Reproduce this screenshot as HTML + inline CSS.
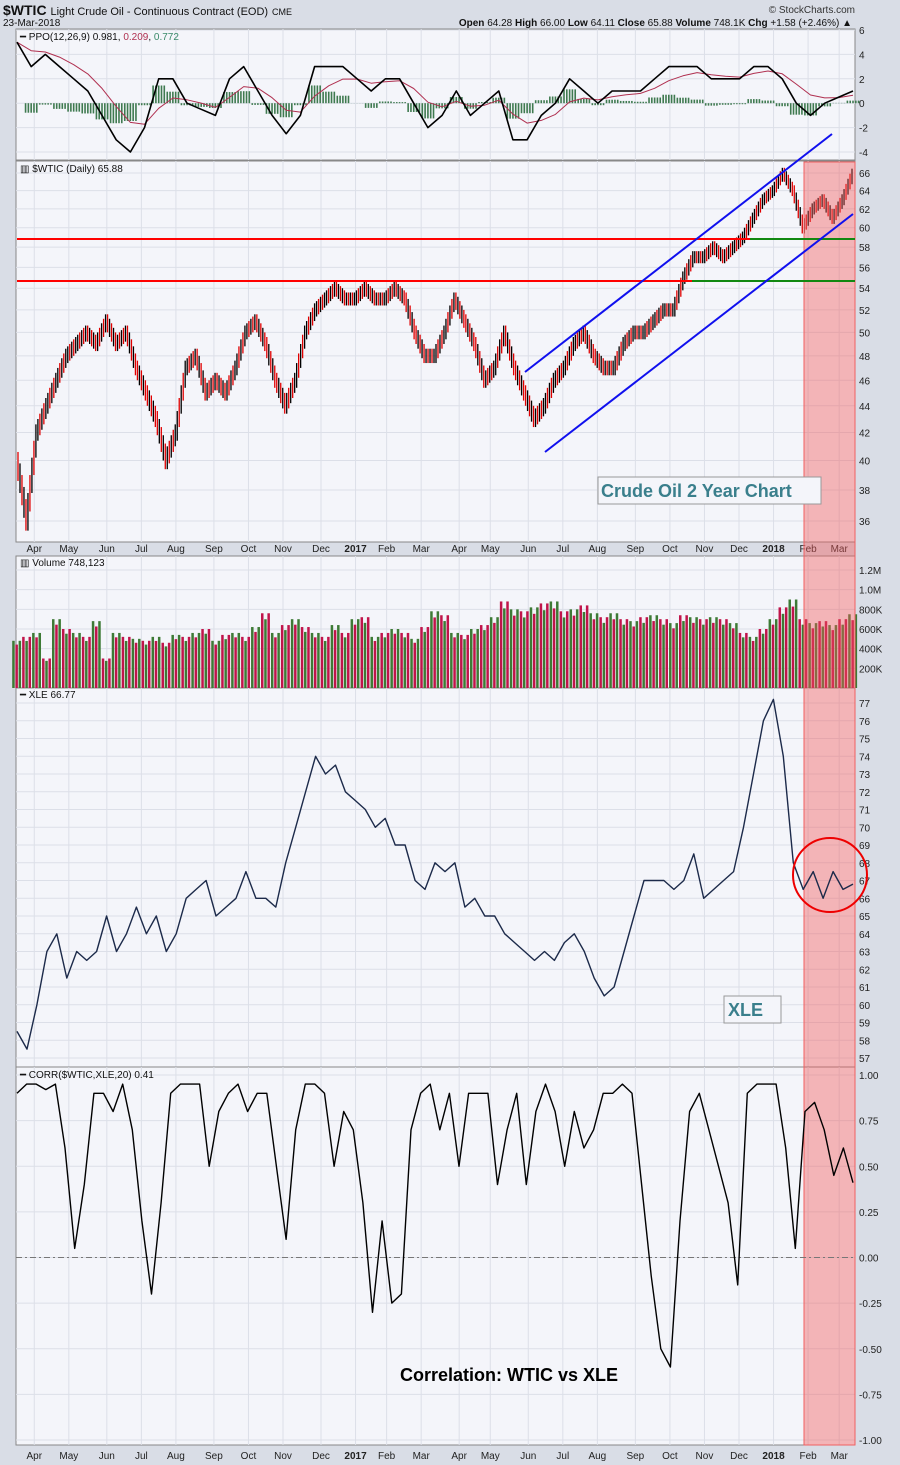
<!DOCTYPE html>
<html><head><meta charset="utf-8"><style>
body{margin:0;background:#d9dde6;font-family:"Liberation Sans",sans-serif;}
svg{display:block}
text{font-family:"Liberation Sans",sans-serif;}
</style></head><body>
<svg id="c" width="900" height="1465" viewBox="0 0 900 1465">
<rect x="0" y="0" width="900" height="1465" fill="#d9dde6"/>
<g>
<text x="3" y="15" font-size="14" font-weight="bold" fill="#111">$WTIC <tspan font-size="11" font-weight="normal">Light Crude Oil - Continuous Contract (EOD)</tspan> <tspan font-size="9" font-weight="normal">CME</tspan></text>
<text x="3" y="26" font-size="10" fill="#111">23-Mar-2018</text>
<text x="855" y="13" font-size="10" fill="#333" text-anchor="end">© StockCharts.com</text>
<text x="852" y="26" font-size="10" fill="#111" text-anchor="end"><tspan font-weight="bold">Open</tspan> 64.28 <tspan font-weight="bold">High</tspan> 66.00 <tspan font-weight="bold">Low</tspan> 64.11 <tspan font-weight="bold">Close</tspan> 65.88 <tspan font-weight="bold">Volume</tspan> 748.1K <tspan font-weight="bold">Chg</tspan> +1.58 (+2.46%) ▲</text>
</g>
<g id="panels"></g>
<g id="marks"></g>
<g id="overlay"></g>
</svg>
<script>
const ppoVals=[5,3,4,3,2,1,-1,-3,-4,-2,2,2,0,-0.5,-1,2,3,1,-1,-2.5,-1,3,3,3,2,1,2,2,0,-2,-1,1,-1,0,1,-3,-3,-1,0,2,1,0,1,1,1,2,3,3,3,2,2,2,3,3,2,0,-1,0,0.5,1];
const priceVals=[40,36,42,44,46,48,49,50,49,51,49,50,47,45,43,40,42,47,48,45,46,45,47,50,51,49,46,44,46,50,52,53,54,53,53,54,53,53,54,53,50,48,48,50,53,51,49,46,47,50,47,45,43,44,46,47,49,50,48,47,47,49,50,50,51,52,52,55,57,57,58,57,58,59,61,63,64,66,64,60,62,63,61,63,65.9];
const volVals=[480,520,560,300,700,600,560,520,680,300,560,520,500,480,520,460,540,520,560,600,480,540,560,520,620,760,560,640,700,620,560,520,640,560,700,720,520,560,600,560,500,620,780,740,560,540,600,640,720,880,800,780,820,860,880,780,800,840,760,720,760,700,680,720,740,700,660,740,720,700,720,700,660,560,520,600,700,820,900,700,660,680,640,700,750];
const xleVals=[58.5,57.5,60,63,64,61.5,63,62.5,63,65,63,64,65.5,64,65,63,64,66,66.5,67,65,65.5,66,67.5,66,66,65.5,68,70,72,74,73,73.5,72,71.5,71,70,70.5,69,69,67,66.5,68,67.5,68,65.5,66,65,65,64,63.5,63,62.5,63,62.5,63.5,64,63,61.5,60.5,61,63,65,67,67,67,66.5,67,68.5,66,66.5,67,67.5,70,73,76,77.2,74,68,66.5,67.5,66,67.5,66.5,66.8];
const corrVals=[0.9,0.95,0.95,0.92,0.95,0.6,0.05,0.4,0.9,0.9,0.8,0.95,0.7,0.2,-0.2,0.3,0.9,0.95,0.95,0.95,0.5,0.8,0.9,0.95,0.8,0.9,0.9,0.5,0.1,0.7,0.95,0.95,0.9,0.5,0.8,0.7,0.3,-0.3,0.2,-0.25,-0.2,0.7,0.9,0.95,0.7,0.9,0.5,0.9,0.9,0.9,0.4,0.7,0.9,0.4,0.8,0.95,0.8,0.5,0.8,0.6,0.7,0.9,0.9,0.95,0.9,0.4,-0.1,-0.5,-0.6,0.2,0.8,0.9,0.7,0.5,0.3,-0.15,0.9,0.95,0.95,0.95,0.6,0.05,0.8,0.85,0.7,0.45,0.6,0.41];
const monthLabels=["Apr","May","Jun","Jul","Aug","Sep","Oct","Nov","Dec","2017","Feb","Mar","Apr","May","Jun","Jul","Aug","Sep","Oct","Nov","Dec","2018","Feb","Mar"];
const monthIdx=[0.5,1.5,2.6,3.6,4.6,5.7,6.7,7.7,8.8,9.8,10.7,11.7,12.8,13.7,14.8,15.8,16.8,17.9,18.9,19.9,20.9,21.9,22.9,23.8];
const ppoTicks=[6,4,2,0,-2,-4];
const priceTicks=[36,38,40,42,44,46,48,50,52,54,56,58,60,62,64,66];
const volTicks=[200,400,600,800,1000,1200];
const volTickLabels=["200K","400K","600K","800K","1.0M","1.2M"];
const xleTicks=[57,58,59,60,61,62,63,64,65,66,67,68,69,70,71,72,73,74,75,76,77];
const corrTicks=[1,0.75,0.5,0.25,0,-0.25,-0.5,-0.75,-1];
const corrTickLabels=["1.00","0.75","0.50","0.25","0.00","-0.25","-0.50","-0.75","-1.00"];

const NS="http://www.w3.org/2000/svg";
const X0=17,X1=853,XR=855;
function el(parent,tag,attrs){const e=document.createElementNS(NS,tag);for(const k in attrs)e.setAttribute(k,attrs[k]);parent.appendChild(e);return e;}
const P=document.getElementById('panels'),M=document.getElementById('marks');
function xIdx(i,n){return X0+i*(X1-X0)/(n-1);}
function xMonth(m){return X0+m*(X1-X0)/24.2;}
function lin(v0,y0,v1,y1){return v=>y0+(v-v0)*(y1-y0)/(v1-v0);}
function logs(v0,y0,v1,y1){const a=Math.log(v0),b=Math.log(v1);return v=>y0+(Math.log(v)-a)*(y1-y0)/(b-a);}
const yPPO=lin(6,30,-4,152), yPrice=logs(66,173,36,521), yVol=lin(0,688,1200,570), yXle=lin(77,703,57,1058), yCorr=lin(1,1075,-1,1440);

function panel(name,top,bot,ticks,labels,ys){
  const g=el(P,'g',{});
  
  
  const r=el(g,'rect',{x:16,y:top,width:XR-16,height:bot-top,fill:'#f4f5fa',stroke:'#888','stroke-width':1});
  
  
  monthIdx.forEach(m=>{const l=el(g,'line',{x1:xMonth(m),x2:xMonth(m),y1:top,y2:bot,stroke:'#dcdfe8','stroke-width':1});
    
    });
  ticks.forEach((t,i)=>{const y=ys(t);
    const l=el(g,'line',{x1:16,x2:XR,y1:y,y2:y,stroke:'#dcdfe8','stroke-width':1});
    
    
    const tx=el(g,'text',{x:859,y:y+4,'font-size':10,fill:'#222'});tx.textContent=labels?labels[i]:t;
    
    });
}
panel('ppo-panel',29,160,ppoTicks,null,yPPO);
panel('price-panel',161,542,priceTicks,null,yPrice);
panel('volume-panel',556,688,volTicks,volTickLabels,yVol);
panel('xle-panel',688,1067,xleTicks,null,yXle);
panel('corr-panel',1067,1445,corrTicks,corrTickLabels,yCorr);

function xAxis(y,name){const g=el(P,'g',{});
  monthLabels.forEach((m,i)=>{const t=el(g,'text',{x:xMonth(monthIdx[i]),y:y,'font-size':10,'text-anchor':'middle',fill:'#222','font-weight':/^20/.test(m)?'bold':'normal'});t.textContent=m;
  
  });}
xAxis(552,'x-axis-top');xAxis(1459,'x-axis-bottom');

// PPO
const sig=[];let s=ppoVals[0];ppoVals.forEach(v=>{s=s+(v-s)*0.35;sig.push(s);});
ppoVals.forEach((v,i)=>{const x=xIdx(i,ppoVals.length);const h=(v-sig[i])*0.6;
  for(let k=-2;k<=2;k++){
  const b=el(M,'rect',{x:x+k*2.8-0.8,y:Math.min(yPPO(0),yPPO(h)),width:1.6,height:Math.abs(yPPO(h)-yPPO(0)),fill:'#3f7a50'});
  
  }});
function line(vals,ys,color,w,name){const d=vals.map((v,i)=>(i?'L':'M')+xIdx(i,vals.length).toFixed(1)+','+ys(v).toFixed(1)).join('');
  const p=el(M,'path',{d:d,fill:'none',stroke:color,'stroke-width':w,'stroke-linejoin':'round'});
  
  }
line(sig,yPPO,'#b03050',1,'ppo-signal-line');
line(ppoVals,yPPO,'#000',1.6,'ppo-line');

// price bars
priceVals.forEach((v,i)=>{if(!i)return;const pv=priceVals[i-1];const x0=xIdx(i-1,priceVals.length),x1=xIdx(i,priceVals.length);
  const up=v>=pv;const steps=5;
  for(let k=0;k<steps;k++){const a=pv+(v-pv)*k/steps,b=pv+(v-pv)*(k+1)/steps;const x=x0+(x1-x0)*(k+0.5)/steps;
    const hi=Math.max(a,b)+0.6,lo=Math.min(a,b)-0.6;
    const l=el(M,'line',{x1:x,x2:x,y1:yPrice(hi),y2:yPrice(lo),stroke:(k%2?(up?'#e00000':'#000'):(up?'#000':'#e00000')),'stroke-width':1.3});
    
    }
});
// volume
volVals.forEach((v,i)=>{const x=xIdx(i,volVals.length);
  for(let k=0;k<3;k++){const up=(i+k)%2===0;const vv=v*(k===1?0.92:1);
  const b=el(M,'rect',{x:x-4.8+k*3.2,y:yVol(vv),width:2.5,height:yVol(0)-yVol(vv),fill:up?'#3d7a35':'#c0144a'});
  
  }});
const sh=el(M,'rect',{x:804,y:162,width:51,height:1283,fill:'rgba(240,90,90,0.42)',stroke:'#f06060','stroke-width':1});


line(xleVals,yXle,'#1c2a4a',1.4,'xle-line');
const zl=el(M,'line',{x1:16,x2:XR,y1:yCorr(0),y2:yCorr(0),stroke:'#777','stroke-dasharray':'6,3,2,3'});


line(corrVals,yCorr,'#000',1.4,'correlation-line');
</script>
<script>
const O2=document.getElementById('overlay');
O2.innerHTML=`
<line x1="17" y1="239" x2="750" y2="239" stroke="#f00" stroke-width="2"/>
<line x1="750" y1="239" x2="855" y2="239" stroke="#118811" stroke-width="2"/>
<line x1="17" y1="281" x2="692" y2="281" stroke="#f00" stroke-width="2"/>
<line x1="692" y1="281" x2="855" y2="281" stroke="#118811" stroke-width="2"/>
<line x1="525" y1="372" x2="832" y2="134" stroke="#1010ee" stroke-width="2"/>
<line x1="545" y1="452" x2="853" y2="214" stroke="#1010ee" stroke-width="2"/>
<circle cx="830" cy="875" r="37" fill="none" stroke="#e00" stroke-width="2"/>
<rect x="598" y="477" width="223" height="27" fill="#f4f5fa" stroke="#999"/>
<text x="601" y="497" font-size="18" font-weight="bold" fill="#3a7f8c">Crude Oil 2 Year Chart</text>
<rect x="724" y="996" width="57" height="27" fill="#f4f5fa" stroke="#999"/>
<text x="728" y="1016" font-size="18" font-weight="bold" fill="#3a7f8c">XLE</text>
<text x="509" y="1381" font-size="18" font-weight="bold" fill="#000" text-anchor="middle">Correlation:  WTIC vs XLE</text>
<text x="20" y="40" font-size="10" fill="#111">━ PPO(12,26,9) 0.981, <tspan fill="#b03050">0.209</tspan>, <tspan fill="#3a8a6a">0.772</tspan></text>
<text x="20" y="172" font-size="10" fill="#111">▥ $WTIC (Daily) 65.88</text>
<text x="20" y="566" font-size="10" fill="#111">▥ Volume 748,123</text>
<text x="20" y="698" font-size="10" fill="#111">━ XLE 66.77</text>
<text x="20" y="1078" font-size="10" fill="#111">━ CORR($WTIC,XLE,20) 0.41</text>`;
</script>
</body></html>
